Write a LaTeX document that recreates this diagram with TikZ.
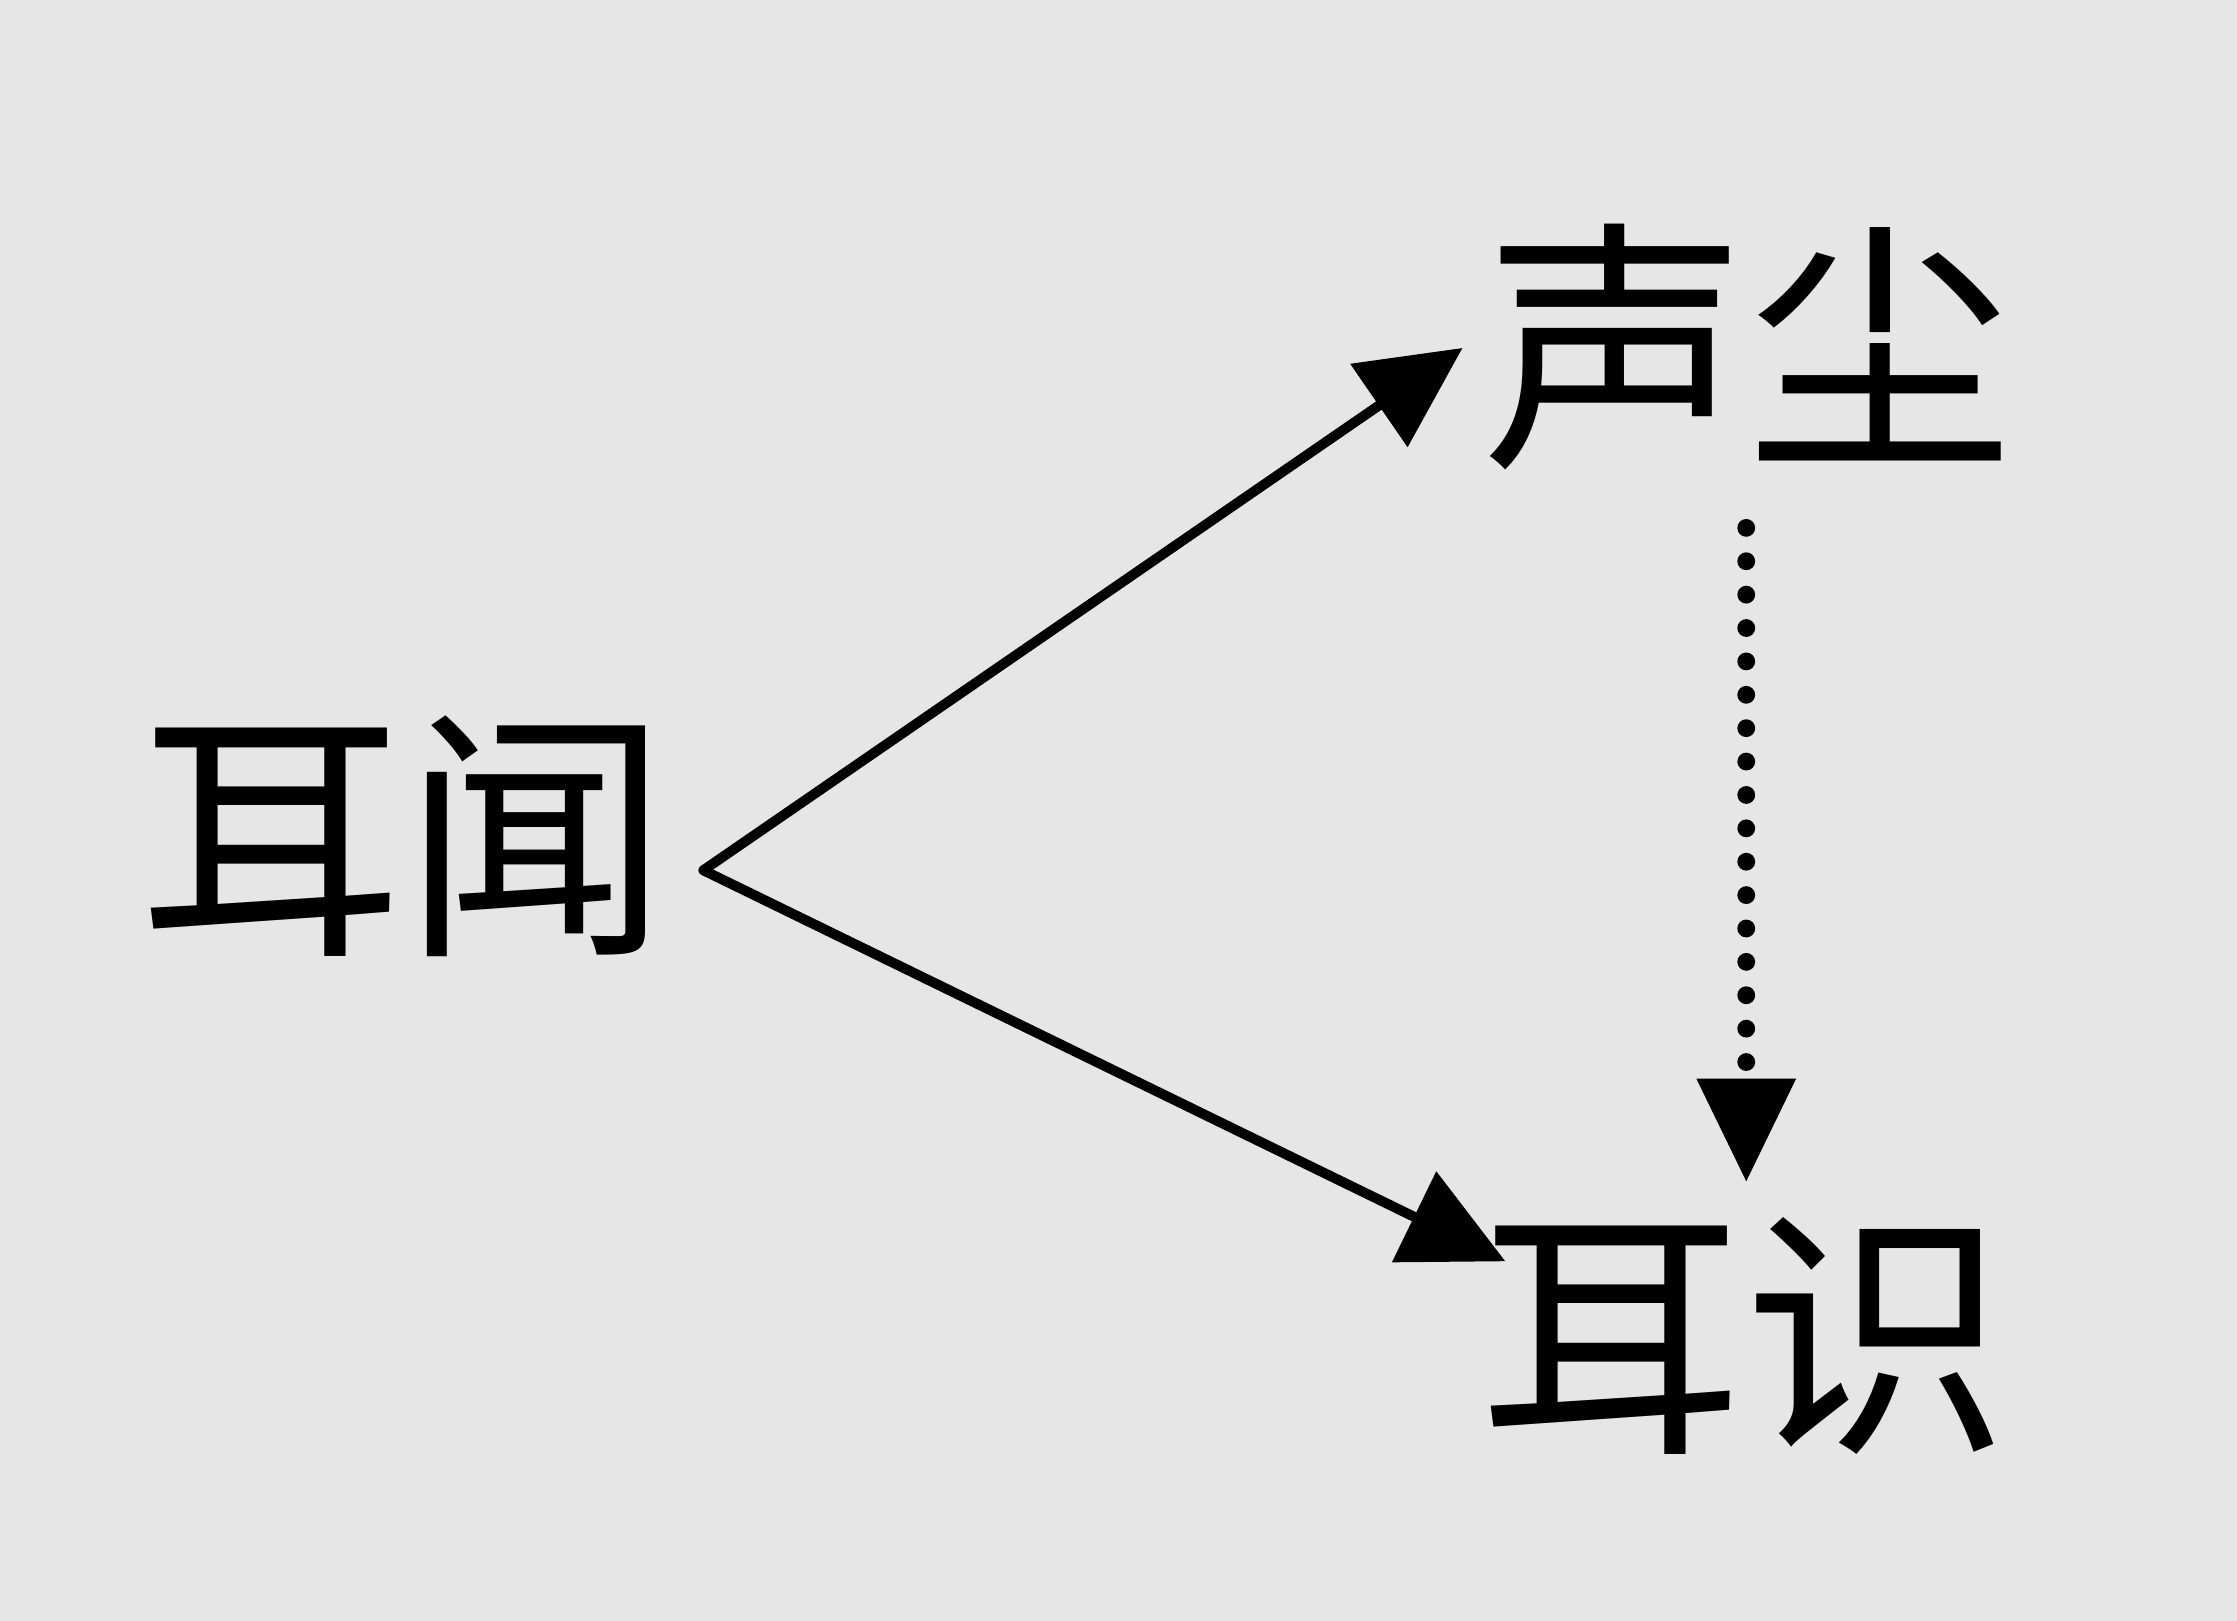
\documentclass[tikz,border=0pt]{standalone}
\usepackage{fontspec}
\newfontfamily\cjk{Noto Sans CJK SC}
\usetikzlibrary{arrows.meta}
\definecolor{bg}{HTML}{E6E6E6}
\begin{document}
\begin{tikzpicture}[x=1pt,y=-1pt,
  lbl/.style={font=\cjk\fontsize{186}{186}\selectfont, inner sep=0pt, anchor=base},
  conn/.style={line width=7pt, line cap=round, -{Triangle[length=71pt,width=71pt,line width=0pt]}},
  dotconn/.style={line width=12.5pt, line cap=round, dash pattern=on 0pt off 23.4pt, -{Triangle[length=72pt,width=70pt,line width=0pt]}}]
\fill[bg] (0,0) rectangle (1568,1136);
\useasboundingbox (0,0) rectangle (1568,1136);
\node[lbl] (erwen) at (283,656) {耳闻};
\node[lbl] (shengchen) at (1225,314) {声尘};
\node[lbl] (ershi) at (1222,1005) {耳识};
\coordinate (src) at (493,610);
\coordinate (t1) at (1025,244);
\coordinate (t2) at (1055,884);
\coordinate (d0) at (1224,370);
\coordinate (d1) at (1224,828);
\draw[conn] (src) -- (t1);
\draw[conn] (src) -- (t2);
\draw[dotconn] (d0) -- (d1);
\end{tikzpicture}
\end{document}
